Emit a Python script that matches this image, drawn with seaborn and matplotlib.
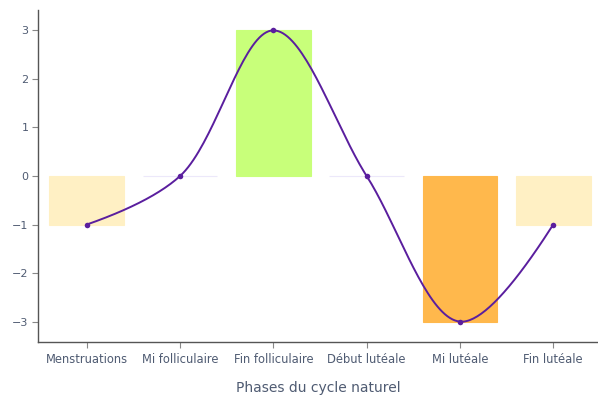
import numpy as np
import pandas as pd
import matplotlib
matplotlib.use("Agg")
import matplotlib.pyplot as plt
import seaborn as sns

# ── data ──────────────────────────────────────────────────────────────
phases = ["Menstruations", "Mi folliculaire", "Fin folliculaire",
          "Début lutéale", "Mi lutéale", "Fin lutéale"]
values = [-1, 0, 3, 0, -3, -1]
bar_colors = ["#FFF0C4", "#ECE8FA", "#C8FF7A", "#ECE8FA", "#FFB84C", "#FFF0C4"]

LINE = "#5A1E9E"
TEXT = "#4F5B72"
SPINE = "#555555"

df = pd.DataFrame({"phase": phases, "value": values})

sns.set_theme(style="white")
plt.rcParams["font.family"] = ["DejaVu Sans"]

# rough pixel size of one data unit, used to shape the spline like plotly does
PX_X, PX_Y = 94.0, 48.7


def _tangent(p0, p1, p2, smooth=1.0):
    d1 = p0 - p1
    d2 = p2 - p1
    d1a = np.hypot(*d1) ** 0.5
    d2a = np.hypot(*d2) ** 0.5
    num = (d2a * d2a * d1 - d1a * d1a * d2) * smooth
    den1 = 3 * d2a * (d1a + d2a)
    den2 = 3 * d1a * (d1a + d2a)
    return p1 + num / den1, p1 - num / den2


def plotly_spline(y, n=40):
    pts = np.column_stack([np.arange(len(y)) * PX_X, -np.asarray(y, float) * PX_Y])
    tans = [_tangent(pts[i - 1], pts[i], pts[i + 1]) for i in range(1, len(pts) - 1)]
    t = np.linspace(0, 1, n)[:, None]
    segs = []
    # first segment: quadratic
    c = tans[0][0]
    segs.append((1 - t) ** 2 * pts[0] + 2 * (1 - t) * t * c + t ** 2 * pts[1])
    for i in range(2, len(pts) - 1):
        c1, c2 = tans[i - 2][1], tans[i - 1][0]
        segs.append((1 - t) ** 3 * pts[i - 1] + 3 * (1 - t) ** 2 * t * c1
                    + 3 * (1 - t) * t ** 2 * c2 + t ** 3 * pts[i])
    c = tans[-1][1]
    segs.append((1 - t) ** 2 * pts[-2] + 2 * (1 - t) * t * c + t ** 2 * pts[-1])
    out = np.vstack(segs)
    return out[:, 0] / PX_X, -out[:, 1] / PX_Y


fig, ax = plt.subplots(figsize=(5.98, 4.0), dpi=100)
fig.subplots_adjust(left=0.064, right=1.0, top=0.975, bottom=0.145)

sns.barplot(data=df, x="phase", y="value", hue="phase", palette=bar_colors,
            legend=False, width=0.8, saturation=1, ax=ax)
for p, c in zip(ax.patches, bar_colors):
    p.set_edgecolor(c)
    p.set_linewidth(0.8)

sx, sy = plotly_spline(values)
ax.plot(sx, sy, color=LINE, linewidth=1.4, zorder=3)
sns.scatterplot(x=np.arange(len(values)), y=values, color=LINE, s=16,
                edgecolor=LINE, linewidth=0, zorder=4, ax=ax)

ax.set_xlim(-0.52, 5.48)
ax.set_ylim(-3.42, 3.42)
ax.set_yticks([-3, -2, -1, 0, 1, 2, 3])

for s in ["top", "right"]:
    ax.spines[s].set_visible(False)
for s in ["left", "bottom"]:
    ax.spines[s].set_color(SPINE)
    ax.spines[s].set_linewidth(1.0)

ax.tick_params(axis="both", direction="out", length=4, width=0.8,
               color="#888888", labelcolor=TEXT, labelsize=8, pad=3,
               bottom=True, left=True)
ax.tick_params(axis="x", labelsize=8.3, pad=4)
ax.set_xlabel("Phases du cycle naturel", fontsize=10, color=TEXT, labelpad=11)
ax.set_ylabel("")

fig.savefig("out.png", dpi=100, facecolor="white")
